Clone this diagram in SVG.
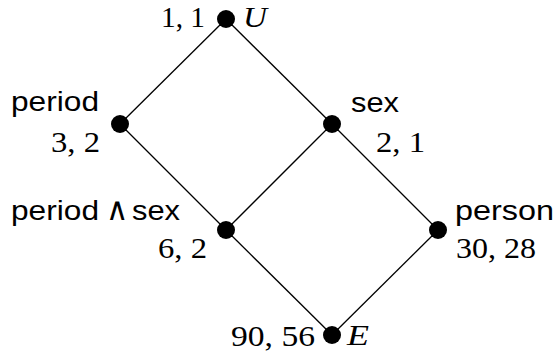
<svg xmlns="http://www.w3.org/2000/svg" width="555" height="356" viewBox="0 0 555 356">
<style>
.e{stroke:#000;stroke-width:1.3;fill:none}
.d{fill:#000}
.s{font-family:"Liberation Sans",Arial,sans-serif;font-size:27px;fill:#000}
.w{font-family:"DejaVu Sans",sans-serif;font-weight:200;font-size:32px;fill:#000}
.n{font-family:"Liberation Serif","Times New Roman",serif;font-size:29px;fill:#000}
.i{font-family:"Liberation Serif","Times New Roman",serif;font-size:29px;font-style:italic;fill:#000}
</style>
<rect width="555" height="356" fill="#fff"/>
<g id="connectors">
<line class="e" x1="226" y1="19" x2="120" y2="124"/>
<line class="e" x1="226" y1="19" x2="332" y2="124"/>
<line class="e" x1="120" y1="124" x2="226" y2="230"/>
<line class="e" x1="332" y1="124" x2="226" y2="230"/>
<line class="e" x1="332" y1="124" x2="438" y2="230"/>
<line class="e" x1="226" y1="230" x2="332" y2="335"/>
<line class="e" x1="438" y1="230" x2="332" y2="335"/>
</g>
<g id="U">
<circle class="d" cx="226" cy="19" r="9"/>
<text class="n" x="161" y="27" textLength="44" lengthAdjust="spacingAndGlyphs">1, 1</text>
<text class="i" x="243" y="27" textLength="24" lengthAdjust="spacingAndGlyphs">U</text>
</g>
<g id="period">
<circle class="d" cx="120" cy="124" r="9"/>
<text class="s" x="11" y="111" textLength="88" lengthAdjust="spacingAndGlyphs">period</text>
<text class="n" x="51" y="152" textLength="49" lengthAdjust="spacingAndGlyphs">3, 2</text>
</g>
<g id="sex">
<circle class="d" cx="332" cy="124" r="9"/>
<text class="s" x="351" y="112" textLength="48" lengthAdjust="spacingAndGlyphs">sex</text>
<text class="n" x="376" y="152" textLength="49" lengthAdjust="spacingAndGlyphs">2, 1</text>
</g>
<g id="period_sex">
<circle class="d" cx="226" cy="230" r="9"/>
<text class="s" x="11" y="220" textLength="88" lengthAdjust="spacingAndGlyphs">period</text>
<text class="w" x="106" y="220" textLength="22" lengthAdjust="spacingAndGlyphs">∧</text>
<text class="s" x="132" y="220" textLength="48" lengthAdjust="spacingAndGlyphs">sex</text>
<text class="n" x="158" y="258" textLength="49" lengthAdjust="spacingAndGlyphs">6, 2</text>
</g>
<g id="person">
<circle class="d" cx="438" cy="230" r="9"/>
<text class="s" x="455" y="220" textLength="99" lengthAdjust="spacingAndGlyphs">person</text>
<text class="n" x="456" y="258" textLength="80" lengthAdjust="spacingAndGlyphs">30, 28</text>
</g>
<g id="E">
<circle class="d" cx="332" cy="335" r="9"/>
<text class="n" x="231" y="346" textLength="84" lengthAdjust="spacingAndGlyphs">90, 56</text>
<text class="i" x="347" y="345" textLength="22" lengthAdjust="spacingAndGlyphs">E</text>
</g>
</svg>
